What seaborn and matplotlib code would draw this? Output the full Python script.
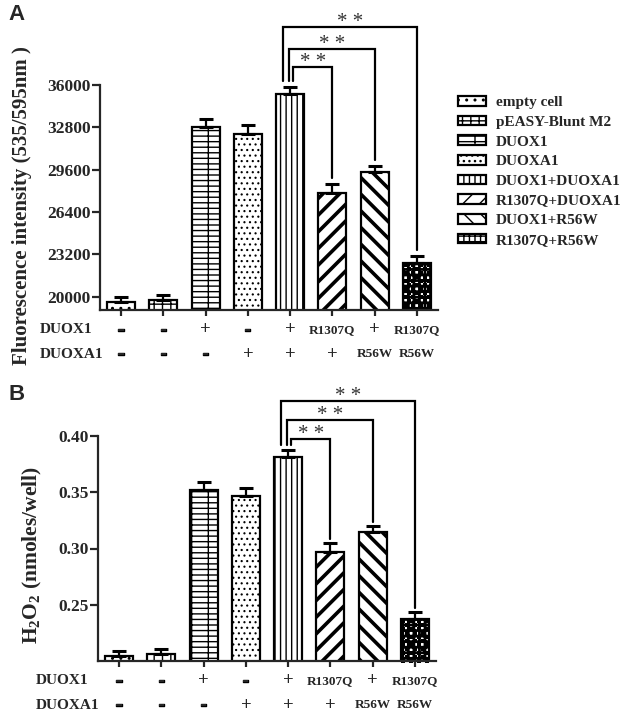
import numpy as np
import pandas as pd
import matplotlib
matplotlib.use("Agg")
import matplotlib.pyplot as plt
import matplotlib.patches as mpatches
import matplotlib.patheffects as pe
from matplotlib.transforms import blended_transform_factory
import seaborn as sns

# ---------------- data ----------------
groups = ["empty cell", "pEASY-Blunt M2", "DUOX1", "DUOXA1", "DUOX1+DUOXA1",
          "R1307Q+DUOXA1", "DUOX1+R56W", "R1307Q+R56W"]
duox1_row = ["-", "-", "+", "-", "+", "R1307Q", "+", "R1307Q"]
duoxa1_row = ["-", "-", "-", "+", "+", "+", "R56W", "R56W"]

fluor_mean = [19640, 19780, 32800, 32300, 35320, 27850, 29430, 22570]
fluor_err = [380, 320, 600, 700, 530, 680, 460, 530]
fluor_ticks = [20000, 23200, 26400, 29600, 32800, 36000]

h2o2_mean = [0.2044, 0.2062, 0.3519, 0.3465, 0.3812, 0.2968, 0.3146, 0.2373]
h2o2_err = [0.0046, 0.0045, 0.0071, 0.0071, 0.0068, 0.0080, 0.0053, 0.0062]
h2o2_ticks = [0.25, 0.30, 0.35, 0.40]

comparisons = [(4, 5), (4, 6), (4, 7)]
sig_labels = ["* *", "* *", "* *"]

# ---------------- style ----------------
sns.set_style("ticks")
plt.rcParams["font.family"] = ["Liberation Serif", "DejaVu Serif"]
plt.rcParams["font.weight"] = "bold"
plt.rcParams["mathtext.fontset"] = "custom"
plt.rcParams["mathtext.rm"] = "Liberation Serif:bold"
plt.rcParams["mathtext.it"] = "Liberation Serif:bold"
plt.rcParams["mathtext.bf"] = "Liberation Serif:bold"
plt.rcParams["hatch.linewidth"] = 1.0
plt.rcParams["hatch.color"] = "black"

hatches = ["..", "++", "---|", "...", "|||", "//", "\\\\", "+++"]
hatch_lw = [1.0, 1.0, 1.0, 0.8, 1.0, 2.6, 2.6, 2.0]

fig = plt.figure(figsize=(6.3, 7.14), dpi=100)
W, H = 630, 714


def axes_px(left, top, right, bottom):
    return fig.add_axes([left / W, 1 - bottom / H, (right - left) / W, (bottom - top) / H])


axA = axes_px(100, 85, 438, 310)
axB = axes_px(98, 436, 436, 661)


def set_hlw(p, lw):
    try:
        p.set_hatch_linewidth(lw)
    except Exception:
        pass


def checker(ax, patch, ncols=7):
    x0 = patch.get_x()
    w = patch.get_width()
    top = patch.get_y() + patch.get_height()
    bottom = ax.get_ylim()[0]
    t = ax.transData
    w_px = t.transform((x0 + w, 0))[0] - t.transform((x0, 0))[0]
    h_px = t.transform((0, top))[1] - t.transform((0, bottom))[1]
    cell = w_px / ncols
    nrows = int(np.ceil(h_px / cell))
    ext_h = (top - bottom) / h_px * cell * nrows
    img = np.indices((nrows, ncols)).sum(axis=0) % 2
    patch.set_facecolor("none")
    im = ax.imshow(img, cmap="gray", extent=[x0, x0 + w, top - ext_h, top],
                   aspect="auto", interpolation="nearest", origin="upper", zorder=0.5)
    im.set_clip_path(patch)


def panel(ax, means, errs, ticks, ylim, gap, bracket_y, ylabel, ylabel_xy, ylabel_fs,
          rowlabel_x, letter, letter_y):
    df = pd.DataFrame({"group": groups, "value": means})
    sns.barplot(data=df, x="group", y="value", hue="group", order=groups, hue_order=groups,
                palette=["white"] * len(groups), edgecolor="black", linewidth=1.6,
                width=0.66, legend=False, ax=ax, saturation=1)
    for p, h, lw in zip(ax.patches, hatches, hatch_lw):
        p.set_hatch(h)
        set_hlw(p, lw)
        p.set_zorder(1)
    x = np.arange(len(groups))
    ax.errorbar(x, means, yerr=[np.zeros(len(means)), errs], fmt="none", ecolor="black",
                elinewidth=1.6, capsize=4.8, capthick=2.2, zorder=3)
    ax.set_xlim(-0.5, len(groups) - 0.5)
    ax.set_ylim(*ylim)
    ax.set_yticks(ticks)
    if isinstance(ticks[0], float):
        ax.set_yticklabels([f"{t:.2f}" for t in ticks])
    else:
        ax.set_yticklabels([str(t) for t in ticks])
    ax.set_xticks(x)
    ax.set_xticklabels([""] * len(groups))
    ax.set_xlabel("")
    ax.set_ylabel("")
    sns.despine(ax=ax)
    for s in ["left", "bottom"]:
        ax.spines[s].set_linewidth(1.6)
    ax.tick_params(axis="y", width=1.6, length=5.5, pad=1, labelsize=12.5)
    ax.tick_params(axis="x", width=1.6, length=4.5)
    for lab in ax.get_yticklabels():
        lab.set_fontweight("bold")

    checker(ax, ax.patches[7])
    ax.set_xlim(-0.5, len(groups) - 0.5)
    ax.set_ylim(*ylim)

    # significance brackets
    left_off = [0.07, -0.02, -0.18]
    tops = [m + e for m, e in zip(means, errs)]
    for (i, j), yb, lo, lab in zip(comparisons, bracket_y, left_off, sig_labels):
        xl, xr = i + lo, j
        ax.plot([xl, xl, xr, xr], [tops[i] + gap, yb, yb, tops[j] + gap], color="black",
                lw=1.6, clip_on=False, zorder=4, solid_joinstyle="miter")
        ax.annotate(lab, ((xl + xr) / 2, yb), xytext=(0, 0), textcoords="offset points",
                    ha="center", va="baseline", fontsize=15, fontweight="normal",
                    color="#333333", annotation_clip=False)

    # genotype rows
    tr = blended_transform_factory(ax.transData, ax.transAxes)
    thick = [pe.withStroke(linewidth=1.0, foreground="black")]
    for row, yy in zip([duox1_row, duoxa1_row], [-0.088, -0.196]):
        for xi, s in enumerate(row):
            if len(s) > 1:
                ax.text(xi, yy, s, transform=tr, ha="center", va="center", fontsize=9.5,
                        fontweight="bold")
            elif s == "-":
                ax.text(xi, yy, s, transform=tr, ha="center", va="center", fontsize=15,
                        fontweight="bold", family="Liberation Sans", path_effects=thick)
            else:
                ax.text(xi, yy, s, transform=tr, ha="center", va="center", fontsize=13.5,
                        fontweight="bold")
    ax.text(rowlabel_x, -0.088, "DUOX1", transform=ax.transAxes, ha="left", va="center",
            fontsize=11, fontweight="bold")
    ax.text(rowlabel_x, -0.196, "DUOXA1", transform=ax.transAxes, ha="left", va="center",
            fontsize=11, fontweight="bold")

    fig.text(ylabel_xy[0] / W, 1 - ylabel_xy[1] / H, ylabel, rotation=90, ha="center",
             va="center", fontsize=ylabel_fs, fontweight="bold")
    fig.text(8 / W, 1 - letter_y / H, letter, ha="left", va="center", fontsize=16,
             fontweight="bold", family="Liberation Sans")


panel(axA, fluor_mean, fluor_err, fluor_ticks, (19000, 36000), 420,
      [37380, 38720, 40350], "Fluorescence intensity (535/595nm )", (22, 206), 15,
      -0.178, "A", 15)
panel(axB, h2o2_mean, h2o2_err, h2o2_ticks, (0.20, 0.40), 0.004,
      [0.3971, 0.4142, 0.4313], "H$_2$O$_2$ (nmoles/well)", (32, 555), 15.5,
      -0.183, "B", 394)

# legend
handles = []
for h, lw in zip(hatches, hatch_lw):
    p = mpatches.Patch(facecolor="white", edgecolor="black", hatch=h, linewidth=1.6)
    set_hlw(p, min(lw, 1.6))
    handles.append(p)
fig.legend(handles, groups, loc="upper left", bbox_to_anchor=(458 / W, 1 - 96 / H),
           frameon=False, borderpad=0, borderaxespad=0, handlelength=1.8, handleheight=0.6,
           handletextpad=0.7, labelspacing=0.42, prop={"weight": "bold", "size": 11})

fig.savefig("out.png", dpi=100)
